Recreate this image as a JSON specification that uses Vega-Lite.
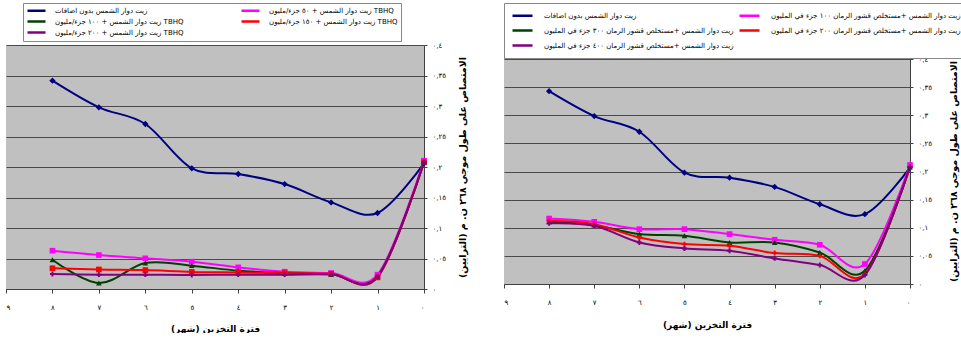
{
  "$schema": "https://vega.github.io/schema/vega-lite/v6.json",
  "background": "white",
  "padding": {"left": 5, "top": 2, "right": 0, "bottom": 0},
  "spacing": 35,
  "config": {
    "font": "DejaVu Sans",
    "view": {"fill": "#c0c0c0", "stroke": null},
    "axis": {"labelColor": "#000", "titleColor": "#000", "domainColor": "#404040", "tickColor": "#404040", "labelFont": "DejaVu Sans", "titleFont": "DejaVu Sans"},
    "legend": {"labelFont": "DejaVu Sans", "labelColor": "#000"}
  },
  "datasets": {
    "left": [
      {"series": "زيت دوار الشمس بدون اضافات", "month": 0, "abs": 0.206},
      {"series": "زيت دوار الشمس بدون اضافات", "month": 1, "abs": 0.1246},
      {"series": "زيت دوار الشمس بدون اضافات", "month": 2, "abs": 0.142},
      {"series": "زيت دوار الشمس بدون اضافات", "month": 3, "abs": 0.172},
      {"series": "زيت دوار الشمس بدون اضافات", "month": 4, "abs": 0.1885},
      {"series": "زيت دوار الشمس بدون اضافات", "month": 5, "abs": 0.1978},
      {"series": "زيت دوار الشمس بدون اضافات", "month": 6, "abs": 0.2705},
      {"series": "زيت دوار الشمس بدون اضافات", "month": 7, "abs": 0.2978},
      {"series": "زيت دوار الشمس بدون اضافات", "month": 8, "abs": 0.3415},
      {"series": "زيت دوار الشمس + ٥٠ جزء/مليون TBHQ", "month": 0, "abs": 0.2104},
      {"series": "زيت دوار الشمس + ٥٠ جزء/مليون TBHQ", "month": 1, "abs": 0.0235},
      {"series": "زيت دوار الشمس + ٥٠ جزء/مليون TBHQ", "month": 2, "abs": 0.0262},
      {"series": "زيت دوار الشمس + ٥٠ جزء/مليون TBHQ", "month": 3, "abs": 0.0284},
      {"series": "زيت دوار الشمس + ٥٠ جزء/مليون TBHQ", "month": 4, "abs": 0.0355},
      {"series": "زيت دوار الشمس + ٥٠ جزء/مليون TBHQ", "month": 5, "abs": 0.0448},
      {"series": "زيت دوار الشمس + ٥٠ جزء/مليون TBHQ", "month": 6, "abs": 0.0503},
      {"series": "زيت دوار الشمس + ٥٠ جزء/مليون TBHQ", "month": 7, "abs": 0.0557},
      {"series": "زيت دوار الشمس + ٥٠ جزء/مليون TBHQ", "month": 8, "abs": 0.0628},
      {"series": "زيت دوار الشمس + ١٠٠ جزء/مليون TBHQ", "month": 0, "abs": 0.2077},
      {"series": "زيت دوار الشمس + ١٠٠ جزء/مليون TBHQ", "month": 1, "abs": 0.0208},
      {"series": "زيت دوار الشمس + ١٠٠ جزء/مليون TBHQ", "month": 2, "abs": 0.024},
      {"series": "زيت دوار الشمس + ١٠٠ جزء/مليون TBHQ", "month": 3, "abs": 0.0262},
      {"series": "زيت دوار الشمس + ١٠٠ جزء/مليون TBHQ", "month": 4, "abs": 0.03},
      {"series": "زيت دوار الشمس + ١٠٠ جزء/مليون TBHQ", "month": 5, "abs": 0.0383},
      {"series": "زيت دوار الشمس + ١٠٠ جزء/مليون TBHQ", "month": 6, "abs": 0.0426},
      {"series": "زيت دوار الشمس + ١٠٠ جزء/مليون TBHQ", "month": 7, "abs": 0.0098},
      {"series": "زيت دوار الشمس + ١٠٠ جزء/مليون TBHQ", "month": 8, "abs": 0.048},
      {"series": "زيت دوار الشمس + ١٥٠ جزء/مليون TBHQ", "month": 0, "abs": 0.2077},
      {"series": "زيت دوار الشمس + ١٥٠ جزء/مليون TBHQ", "month": 1, "abs": 0.019},
      {"series": "زيت دوار الشمس + ١٥٠ جزء/مليون TBHQ", "month": 2, "abs": 0.025},
      {"series": "زيت دوار الشمس + ١٥٠ جزء/مليون TBHQ", "month": 3, "abs": 0.026},
      {"series": "زيت دوار الشمس + ١٥٠ جزء/مليون TBHQ", "month": 4, "abs": 0.027},
      {"series": "زيت دوار الشمس + ١٥٠ جزء/مليون TBHQ", "month": 5, "abs": 0.028},
      {"series": "زيت دوار الشمس + ١٥٠ جزء/مليون TBHQ", "month": 6, "abs": 0.031},
      {"series": "زيت دوار الشمس + ١٥٠ جزء/مليون TBHQ", "month": 7, "abs": 0.032},
      {"series": "زيت دوار الشمس + ١٥٠ جزء/مليون TBHQ", "month": 8, "abs": 0.034},
      {"series": "زيت دوار الشمس + ٢٠٠ جزء/مليون TBHQ", "month": 0, "abs": 0.2077},
      {"series": "زيت دوار الشمس + ٢٠٠ جزء/مليون TBHQ", "month": 1, "abs": 0.02},
      {"series": "زيت دوار الشمس + ٢٠٠ جزء/مليون TBHQ", "month": 2, "abs": 0.024},
      {"series": "زيت دوار الشمس + ٢٠٠ جزء/مليون TBHQ", "month": 3, "abs": 0.0235},
      {"series": "زيت دوار الشمس + ٢٠٠ جزء/مليون TBHQ", "month": 4, "abs": 0.0235},
      {"series": "زيت دوار الشمس + ٢٠٠ جزء/مليون TBHQ", "month": 5, "abs": 0.023},
      {"series": "زيت دوار الشمس + ٢٠٠ جزء/مليون TBHQ", "month": 6, "abs": 0.0235},
      {"series": "زيت دوار الشمس + ٢٠٠ جزء/مليون TBHQ", "month": 7, "abs": 0.0235},
      {"series": "زيت دوار الشمس + ٢٠٠ جزء/مليون TBHQ", "month": 8, "abs": 0.0246}
    ],
    "right": [
      {"series": "زيت دوار الشمس بدون اضافات", "month": 0, "abs": 0.2069},
      {"series": "زيت دوار الشمس بدون اضافات", "month": 1, "abs": 0.1241},
      {"series": "زيت دوار الشمس بدون اضافات", "month": 2, "abs": 0.1418},
      {"series": "زيت دوار الشمس بدون اضافات", "month": 3, "abs": 0.1726},
      {"series": "زيت دوار الشمس بدون اضافات", "month": 4, "abs": 0.189},
      {"series": "زيت دوار الشمس بدون اضافات", "month": 5, "abs": 0.198},
      {"series": "زيت دوار الشمس بدون اضافات", "month": 6, "abs": 0.2707},
      {"series": "زيت دوار الشمس بدون اضافات", "month": 7, "abs": 0.2985},
      {"series": "زيت دوار الشمس بدون اضافات", "month": 8, "abs": 0.3428},
      {"series": "زيت دوار الشمس +مستخلص قشور الرمان ١٠٠ جزء في المليون", "month": 0, "abs": 0.2116},
      {"series": "زيت دوار الشمس +مستخلص قشور الرمان ١٠٠ جزء في المليون", "month": 1, "abs": 0.0355},
      {"series": "زيت دوار الشمس +مستخلص قشور الرمان ١٠٠ جزء في المليون", "month": 2, "abs": 0.0697},
      {"series": "زيت دوار الشمس +مستخلص قشور الرمان ١٠٠ جزء في المليون", "month": 3, "abs": 0.0786},
      {"series": "زيت دوار الشمس +مستخلص قشور الرمان ١٠٠ جزء في المليون", "month": 4, "abs": 0.0887},
      {"series": "زيت دوار الشمس +مستخلص قشور الرمان ١٠٠ جزء في المليون", "month": 5, "abs": 0.0975},
      {"series": "زيت دوار الشمس +مستخلص قشور الرمان ١٠٠ جزء في المليون", "month": 6, "abs": 0.0975},
      {"series": "زيت دوار الشمس +مستخلص قشور الرمان ١٠٠ جزء في المليون", "month": 7, "abs": 0.1105},
      {"series": "زيت دوار الشمس +مستخلص قشور الرمان ١٠٠ جزء في المليون", "month": 8, "abs": 0.1164},
      {"series": "زيت دوار الشمس +مستخلص قشور الرمان ٣٠٠ جزء في المليون", "month": 0, "abs": 0.208},
      {"series": "زيت دوار الشمس +مستخلص قشور الرمان ٣٠٠ جزء في المليون", "month": 1, "abs": 0.0236},
      {"series": "زيت دوار الشمس +مستخلص قشور الرمان ٣٠٠ جزء في المليون", "month": 2, "abs": 0.0561},
      {"series": "زيت دوار الشمس +مستخلص قشور الرمان ٣٠٠ جزء في المليون", "month": 3, "abs": 0.0739},
      {"series": "زيت دوار الشمس +مستخلص قشور الرمان ٣٠٠ جزء في المليون", "month": 4, "abs": 0.0739},
      {"series": "زيت دوار الشمس +مستخلص قشور الرمان ٣٠٠ جزء في المليون", "month": 5, "abs": 0.0857},
      {"series": "زيت دوار الشمس +مستخلص قشور الرمان ٣٠٠ جزء في المليون", "month": 6, "abs": 0.0887},
      {"series": "زيت دوار الشمس +مستخلص قشور الرمان ٣٠٠ جزء في المليون", "month": 7, "abs": 0.1046},
      {"series": "زيت دوار الشمس +مستخلص قشور الرمان ٣٠٠ جزء في المليون", "month": 8, "abs": 0.1105},
      {"series": "زيت دوار الشمس +مستخلص قشور الرمان ٢٠٠ جزء في المليون", "month": 0, "abs": 0.208},
      {"series": "زيت دوار الشمس +مستخلص قشور الرمان ٢٠٠ جزء في المليون", "month": 1, "abs": 0.0177},
      {"series": "زيت دوار الشمس +مستخلص قشور الرمان ٢٠٠ جزء في المليون", "month": 2, "abs": 0.05},
      {"series": "زيت دوار الشمس +مستخلص قشور الرمان ٢٠٠ جزء في المليون", "month": 3, "abs": 0.055},
      {"series": "زيت دوار الشمس +مستخلص قشور الرمان ٢٠٠ جزء في المليون", "month": 4, "abs": 0.068},
      {"series": "زيت دوار الشمس +مستخلص قشور الرمان ٢٠٠ جزء في المليون", "month": 5, "abs": 0.0709},
      {"series": "زيت دوار الشمس +مستخلص قشور الرمان ٢٠٠ جزء في المليون", "month": 6, "abs": 0.0827},
      {"series": "زيت دوار الشمس +مستخلص قشور الرمان ٢٠٠ جزء في المليون", "month": 7, "abs": 0.1064},
      {"series": "زيت دوار الشمس +مستخلص قشور الرمان ٢٠٠ جزء في المليون", "month": 8, "abs": 0.1123},
      {"series": "زيت دوار الشمس +مستخلص قشور الرمان ٤٠٠ جزء في المليون", "month": 0, "abs": 0.208},
      {"series": "زيت دوار الشمس +مستخلص قشور الرمان ٤٠٠ جزء في المليون", "month": 1, "abs": 0.016},
      {"series": "زيت دوار الشمس +مستخلص قشور الرمان ٤٠٠ جزء في المليون", "month": 2, "abs": 0.0337},
      {"series": "زيت دوار الشمس +مستخلص قشور الرمان ٤٠٠ جزء في المليون", "month": 3, "abs": 0.0455},
      {"series": "زيت دوار الشمس +مستخلص قشور الرمان ٤٠٠ جزء في المليون", "month": 4, "abs": 0.0591},
      {"series": "زيت دوار الشمس +مستخلص قشور الرمان ٤٠٠ جزء في المليون", "month": 5, "abs": 0.0632},
      {"series": "زيت دوار الشمس +مستخلص قشور الرمان ٤٠٠ جزء في المليون", "month": 6, "abs": 0.0739},
      {"series": "زيت دوار الشمس +مستخلص قشور الرمان ٤٠٠ جزء في المليون", "month": 7, "abs": 0.1034},
      {"series": "زيت دوار الشمس +مستخلص قشور الرمان ٤٠٠ جزء في المليون", "month": 8, "abs": 0.108}
    ]
  },
  "hconcat": [
    {
      "width": 418,
      "height": 244,
      "data": {"name": "left"},
      "encoding": {
        "x": {"field": "month", "type": "quantitative",
          "scale": {"domain": [0, 9], "reverse": true, "nice": false},
          "axis": {"values": [0,1,2,3,4,5,6,7,8,9], "grid": false, "tickSize": 4, "labelPadding": 10, "labelFontSize": 7,
            "labelExpr": "['٠','١','٢','٣','٤','٥','٦','٧','٨','٩'][datum.value]",
            "title": "فترة التخزين (شهر)", "titleFontSize": 9, "titleFontWeight": "bold", "titlePadding": 14}},
        "y": {"field": "abs", "type": "quantitative",
          "scale": {"domain": [0, 0.4], "nice": false},
          "axis": {"orient": "right", "values": [0,0.05,0.1,0.15,0.2,0.25,0.3,0.35,0.4], "grid": true, "gridColor": "#4a4a4a", "gridWidth": 1,
            "tickSize": 3, "labelPadding": 5, "labelFontSize": 7,
            "labelExpr": "['٠','٠,٠٥','٠,١','٠,١٥','٠,٢','٠,٢٥','٠,٣','٠,٣٥','٠,٤'][round(datum.value*20)]",
            "title": "الامتصاص على طول موجي ٢٦٨ ن. م (الترايين)", "titleAngle": 270, "titleBaseline": "top", "titleFontSize": 9.5, "titleFontWeight": "bold", "titlePadding": 12}},
        "color": {"field": "series", "type": "nominal",
          "scale": {"domain": ["زيت دوار الشمس بدون اضافات", "زيت دوار الشمس + ٥٠ جزء/مليون TBHQ", "زيت دوار الشمس + ١٠٠ جزء/مليون TBHQ", "زيت دوار الشمس + ١٥٠ جزء/مليون TBHQ", "زيت دوار الشمس + ٢٠٠ جزء/مليون TBHQ"],
            "range": ["#000080", "#ff00ff", "#004000", "#ff0000", "#800080"]},
          "legend": {"orient": "none", "legendX": 17, "legendY": -42, "columns": 2, "direction": "horizontal", "title": null,
            "symbolType": "M-3,0H3", "symbolStrokeWidth": 2.5, "symbolSize": 36, "symbolOffset": 6, "labelOffset": 14,
            "labelFontSize": 7, "columnPadding": 52, "rowPadding": 0, "padding": 3, "strokeColor": "#888", "fillColor": "white", "labelLimit": 300}}
      },
      "layer": [
        {"mark": {"type": "line", "interpolate": "cardinal", "strokeWidth": 2}},
        {"transform": [{"filter": "datum.series == 'زيت دوار الشمس بدون اضافات'"}], "mark": {"type": "point", "shape": "diamond", "filled": true, "size": 40, "opacity": 1}},
        {"transform": [{"filter": "indexof(datum.series, '٥٠ ') >= 0"}], "mark": {"type": "point", "shape": "square", "filled": true, "size": 32, "opacity": 1}},
        {"transform": [{"filter": "indexof(datum.series, '١٠٠') >= 0"}], "mark": {"type": "point", "shape": "triangle-up", "filled": true, "size": 32, "opacity": 1}},
        {"transform": [{"filter": "indexof(datum.series, '١٥٠') >= 0 || indexof(datum.series, '٢٠٠') >= 0"}], "mark": {"type": "point", "shape": "cross", "filled": true, "size": 24, "opacity": 1}}
      ]
    },
    {
      "width": 406,
      "height": 239,
      "data": {"name": "right"},
      "encoding": {
        "x": {"field": "month", "type": "quantitative",
          "scale": {"domain": [0, 9], "reverse": true, "nice": false},
          "axis": {"values": [0,1,2,3,4,5,6,7,8,9], "grid": false, "tickSize": 4, "labelPadding": 10, "labelFontSize": 7,
            "labelExpr": "['٠','١','٢','٣','٤','٥','٦','٧','٨','٩'][datum.value]",
            "title": "فترة التخزين (شهر)", "titleFontSize": 9, "titleFontWeight": "bold", "titlePadding": 15}},
        "y": {"field": "abs", "type": "quantitative",
          "scale": {"domain": [0, 0.42489], "nice": false},
          "axis": {"orient": "right", "values": [0,0.05,0.1,0.15,0.2,0.25,0.3,0.35,0.4], "grid": true, "gridColor": "#4a4a4a", "gridWidth": 1,
            "tickSize": 3, "labelPadding": 5, "labelFontSize": 7,
            "labelExpr": "['٠','٠,٠٥','٠,١','٠,١٥','٠,٢','٠,٢٥','٠,٣','٠,٣٥','٠,٤'][round(datum.value*20)]",
            "title": "الامتصاص على طول موجي ٢٦٨ ن. م (الترايين)", "titleAngle": 270, "titleBaseline": "top", "titleFontSize": 9.5, "titleFontWeight": "bold", "titlePadding": 17, "titleY": 126}},
        "color": {"field": "series", "type": "nominal",
          "scale": {"domain": ["زيت دوار الشمس بدون اضافات", "زيت دوار الشمس +مستخلص قشور الرمان ١٠٠ جزء في المليون", "زيت دوار الشمس +مستخلص قشور الرمان ٣٠٠ جزء في المليون", "زيت دوار الشمس +مستخلص قشور الرمان ٢٠٠ جزء في المليون", "زيت دوار الشمس +مستخلص قشور الرمان ٤٠٠ جزء في المليون"],
            "range": ["#000080", "#ff00ff", "#004000", "#ff0000", "#800080"]},
          "legend": {"orient": "none", "legendX": 0, "legendY": -42, "columns": 2, "direction": "horizontal", "title": null,
            "symbolType": "M-2.5,0H2.5", "symbolStrokeWidth": 2.5, "symbolSize": 64, "symbolOffset": 6, "labelOffset": 16,
            "labelFontSize": 7, "columnPadding": 0, "rowPadding": 4, "padding": 7, "strokeColor": "#888", "fillColor": "white", "labelLimit": 300}}
      },
      "layer": [
        {"mark": {"type": "line", "interpolate": "cardinal", "strokeWidth": 2}},
        {"transform": [{"filter": "datum.series == 'زيت دوار الشمس بدون اضافات'"}], "mark": {"type": "point", "shape": "diamond", "filled": true, "size": 40, "opacity": 1}},
        {"transform": [{"filter": "indexof(datum.series, '١٠٠') >= 0"}], "mark": {"type": "point", "shape": "square", "filled": true, "size": 32, "opacity": 1}},
        {"transform": [{"filter": "indexof(datum.series, '٣٠٠') >= 0"}], "mark": {"type": "point", "shape": "triangle-up", "filled": true, "size": 32, "opacity": 1}},
        {"transform": [{"filter": "indexof(datum.series, '٢٠٠') >= 0 || indexof(datum.series, '٤٠٠') >= 0"}], "mark": {"type": "point", "shape": "cross", "filled": true, "size": 24, "opacity": 1}}
      ]
    }
  ],
  "resolve": {"scale": {"color": "independent"}, "legend": {"color": "independent"}}
}
